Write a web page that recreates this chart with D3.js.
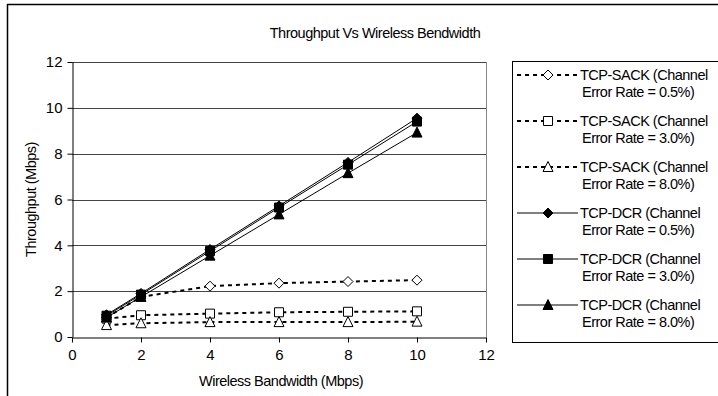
<!DOCTYPE html>
<html>
<head>
<meta charset="utf-8">
<script src="https://cdn.jsdelivr.net/npm/d3@7"></script>
<style>
  body { margin: 0; background: #fff; }
  svg { font-family: "Liberation Sans", Arial, sans-serif; }
</style>
</head>
<body>
<div id="chart"></div>
<script>
// bandwidth values (Mbps) on the x axis
const bandwidth = [1, 2, 4, 6, 8, 10];

// throughput (Mbps) per series
const sack05 = [0.85, 1.75, 2.22, 2.35, 2.42, 2.48];
const sack30 = [0.8, 0.95, 1.02, 1.08, 1.1, 1.12];
const sack80 = [0.52, 0.6, 0.65, 0.65, 0.65, 0.67];
const dcr05 = [0.97, 1.9, 3.82, 5.72, 7.62, 9.55];
const dcr30 = [0.93, 1.85, 3.75, 5.65, 7.52, 9.4];
const dcr80 = [0.85, 1.75, 3.55, 5.35, 7.15, 8.92];

const seriesNames = [
  ["TCP-SACK (Channel", "Error Rate = 0.5%)"],
  ["TCP-SACK (Channel", "Error Rate = 3.0%)"],
  ["TCP-SACK (Channel", "Error Rate = 8.0%)"],
  ["TCP-DCR (Channel", "Error Rate = 0.5%)"],
  ["TCP-DCR (Channel", "Error Rate = 3.0%)"],
  ["TCP-DCR (Channel", "Error Rate = 8.0%)"]
];
const xTicks = [0, 2, 4, 6, 8, 10, 12];
const yTicks = [0, 2, 4, 6, 8, 10, 12];

const series = [
  { values: sack05, shape: "diamond", filled: false, dashed: true },
  { values: sack30, shape: "square", filled: false, dashed: true },
  { values: sack80, shape: "triangle", filled: false, dashed: true },
  { values: dcr05, shape: "diamond", filled: true, dashed: false },
  { values: dcr30, shape: "square", filled: true, dashed: false },
  { values: dcr80, shape: "triangle", filled: true, dashed: false }
];

const width = 718, height = 396;
const svg = d3.select("#chart").append("svg")
  .attr("width", width)
  .attr("height", height);

// outer frame (runs off the right and bottom edge)
svg.append("rect")
  .attr("x", 7.5).attr("y", 4.5)
  .attr("width", 720).attr("height", 400)
  .attr("fill", "none")
  .attr("stroke", "#000")
  .attr("stroke-width", 1.5);

const x = d3.scaleLinear().domain([0, 12]).range([72, 486]);
const y = d3.scaleLinear().domain([0, 12]).range([337, 62]);

svg.append("text")
  .attr("x", 375).attr("y", 38)
  .attr("text-anchor", "middle")
  .attr("font-size", 14.5)
  .attr("letter-spacing", -0.5)
  .text("Throughput Vs Wireless Bendwidth");

// gridlines
svg.append("g").selectAll("line")
  .data(yTicks.filter(d => d > 0))
  .enter().append("line")
  .attr("x1", x(0)).attr("x2", x(12))
  .attr("y1", d => Math.round(y(d)) + 0.5)
  .attr("y2", d => Math.round(y(d)) + 0.5)
  .attr("stroke", "#444");

// right border of plot area
svg.append("line")
  .attr("x1", x(12) + 0.5).attr("x2", x(12) + 0.5)
  .attr("y1", y(12)).attr("y2", y(0))
  .attr("stroke", "#888");

const xAxis = svg.append("g")
  .attr("transform", `translate(0,${Math.round(y(0)) + 0.5})`)
  .call(d3.axisBottom(x).tickValues(xTicks).tickSize(5).tickSizeOuter(0).tickPadding(7));
const yAxis = svg.append("g")
  .attr("transform", `translate(${Math.round(x(0)) + 0.5},0)`)
  .call(d3.axisLeft(y).tickValues(yTicks).tickSize(5).tickSizeOuter(0).tickPadding(5));

[xAxis, yAxis].forEach(g => {
  g.selectAll("path, line").attr("stroke", "#000");
  g.selectAll("text")
    .attr("font-size", 15)
    .attr("font-family", "'Liberation Sans', Arial, sans-serif")
    .attr("fill", "#000");
});

svg.append("text")
  .attr("x", 281).attr("y", 386)
  .attr("text-anchor", "middle")
  .attr("font-size", 14.5)
  .attr("letter-spacing", -0.5)
  .text("Wireless Bandwidth (Mbps)");

svg.append("text")
  .attr("transform", `translate(36,${(y(0) + y(12)) / 2}) rotate(-90)`)
  .attr("text-anchor", "middle")
  .attr("font-size", 14.5)
  .attr("letter-spacing", -0.5)
  .text("Throughput (Mbps)");

// marker outlines, centred on 0,0
const markerPath = {
  diamond: "M0,-5L5,0L0,5L-5,0Z",
  square: "M-4.5,-4.5H4.5V4.5H-4.5Z",
  triangle: "M0,-5.5L5,4.5H-5Z"
};

function drawMarker(g, s, px, py) {
  g.append("path")
    .attr("d", markerPath[s.shape])
    .attr("transform", `translate(${px},${py})`)
    .attr("fill", s.filled ? "#000" : "#fff")
    .attr("stroke", "#000")
    .attr("stroke-width", 1);
}

const line = d3.line()
  .x((d, i) => x(bandwidth[i]))
  .y(d => y(d));

const plot = svg.append("g");
series.forEach(s => {
  plot.append("path")
    .attr("d", line(s.values))
    .attr("fill", "none")
    .attr("stroke", "#000")
    .attr("stroke-width", s.dashed ? 2 : 1)
    .attr("stroke-dasharray", s.dashed ? "4,4" : null);
});
series.forEach(s => {
  s.values.forEach((v, i) => drawMarker(plot, s, x(bandwidth[i]), y(v)));
});

// legend
const legend = svg.append("g");
legend.append("rect")
  .attr("x", 512.5).attr("y", 61.5)
  .attr("width", 210).attr("height", 281)
  .attr("fill", "#fff")
  .attr("stroke", "#000");

series.forEach((s, i) => {
  const ly = 75 + i * 46;
  legend.append("line")
    .attr("x1", 517).attr("x2", 578)
    .attr("y1", ly).attr("y2", ly)
    .attr("stroke", "#000")
    .attr("stroke-width", s.dashed ? 2 : 1)
    .attr("stroke-dasharray", s.dashed ? "4,4" : null);
  drawMarker(legend, s, 548, ly);
  const t = legend.append("text")
    .attr("font-size", 14.5)
    .attr("letter-spacing", -0.5);
  t.append("tspan").attr("x", 580).attr("y", ly + 5).text(seriesNames[i][0]);
  t.append("tspan").attr("x", 582).attr("y", ly + 22).text(seriesNames[i][1]);
});
</script>
</body>
</html>
